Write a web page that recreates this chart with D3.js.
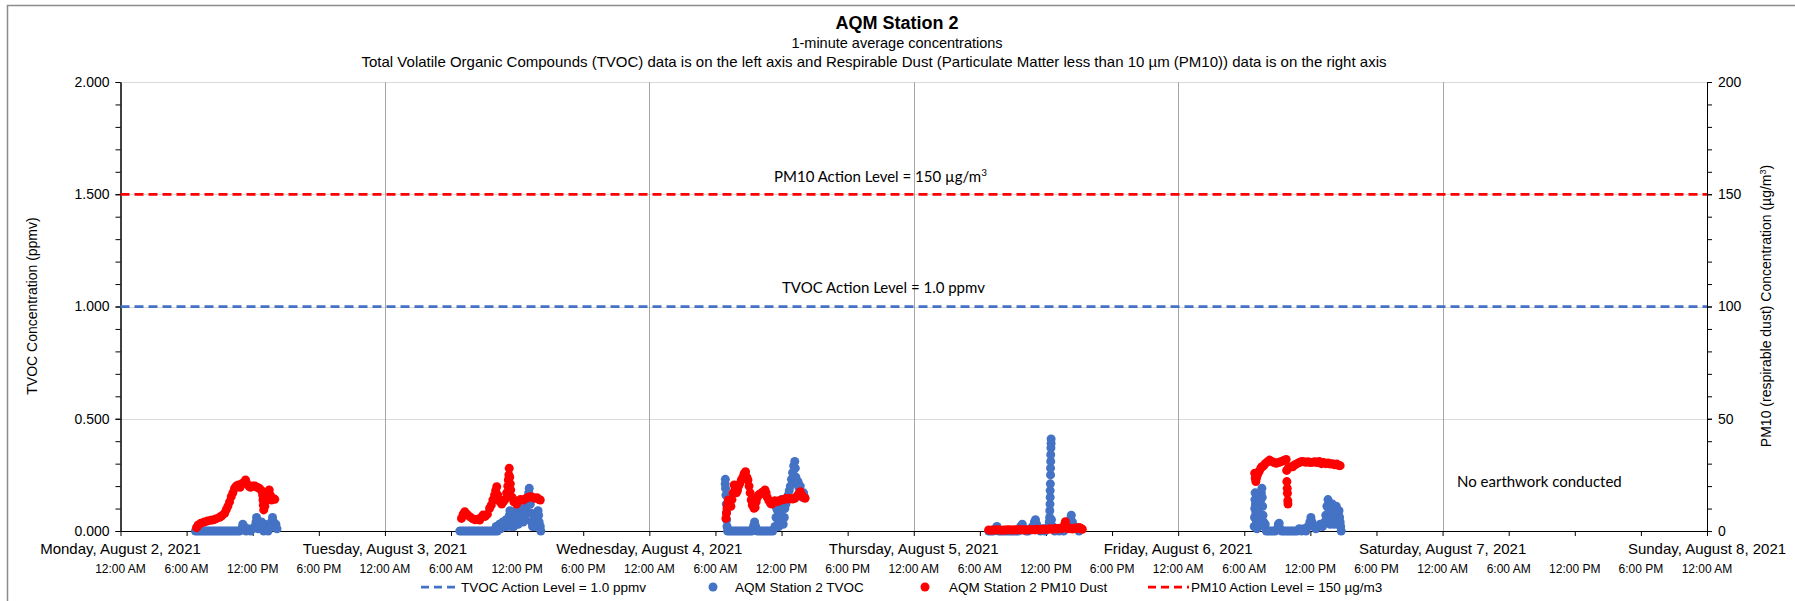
<!DOCTYPE html>
<html>
<head>
<meta charset="utf-8">
<script src="https://cdn.jsdelivr.net/npm/d3@7"></script>
<style>
  body { margin: 0; background: #fff; }
  svg text { font-family: "Liberation Sans", Arial, sans-serif; fill: #000; }
  svg text.note { font-family: Lato, "Open Sans", sans-serif; }
</style>
</head>
<body>
<script>
'use strict';

(function () {

  // x axis: one label per day (12:00 AM), plus the 6-hour time labels
  const dayLabels = ["Monday, August 2, 2021", "Tuesday, August 3, 2021", "Wednesday, August 4, 2021",
    "Thursday, August 5, 2021", "Friday, August 6, 2021", "Saturday, August 7, 2021", "Sunday, August 8, 2021"];
  const timeLabels = ["12:00 AM", "6:00 AM", "12:00 PM", "6:00 PM"];
  const tvocTicks = [0, 0.5, 1.0, 1.5, 2.0];
  const pm10Ticks = [0, 50, 100, 150, 200];
  const tvocActionLevel = 1.0;
  const pm10ActionLevel = 150;

  // readings as [hour of the day, value]; TVOC in ppmv, PM10 in ug/m3
  const tvocMon = [[6.8,0],[7.0,0],[7.2,0],[7.4,0],[7.6,0],[7.8,0],[8.0,0],[8.2,0],[8.4,0],[8.6,0],[8.8,0],
    [9.0,0],[9.2,0],[9.4,0],[9.6,0],[9.8,0],[10.0,0],[10.2,0],[10.4,0],[10.6,0],[10.8,0],[11.0,0.01],[11.1,0.03],
    [11.2,0.02],[11.4,0],[11.6,0.01],[11.8,0],[12.0,0.01],[12.2,0.02],[12.3,0.04],[12.35,0.06],[12.4,0.04],
    [12.5,0.01],[12.7,0.02],[12.8,0.04],[12.9,0.02],[13.0,0],[13.1,0.03],[13.2,0.01],[13.4,0],[13.6,0.02],
    [13.7,0.04],[13.8,0.06],[13.9,0.04],[14.0,0.02],[14.1,0.03],[14.2,0.01]];
  const pm10Mon = [[6.9,1.5],[7.05,2.7],[7.3,3.5],[7.6,4.0],[7.9,4.5],[8.2,4.8],[8.45,5.0],[8.7,5.5],[9.0,6.1],
    [9.2,6.8],[9.45,7.9],[9.6,9.5],[9.75,11.1],[9.9,13],[10.05,15.3],[10.2,17],[10.35,19],[10.5,20],[10.7,20.5],
    [10.85,19.5],[11.0,21],[11.2,21.5],[11.35,22.7],[11.5,21],[11.65,20],[11.8,19.5],[12.0,20],[12.2,20],
    [12.4,19.5],[12.6,19],[12.8,18],[12.9,16],[12.93,13.8],[12.96,11.5],[13.0,9.4],[13.1,11],[13.2,13.8],
    [13.35,16],[13.5,18.3],[13.6,16],[13.7,13.8],[13.85,14.5],[14.0,14.1]];

  const tvocTue = [[6.8,0],[7.0,0],[7.2,0],[7.4,0],[7.6,0],[7.8,0],[8.0,0],[8.2,0],[8.4,0],[8.6,0],[8.8,0],
    [9.0,0],[9.2,0],[9.4,0],[9.6,0],[9.8,0],[10.0,0],[10.1,0.02],[10.2,0],[10.4,0.03],[10.5,0.01],[10.7,0.04],
    [10.8,0.02],[11.0,0.05],[11.1,0.02],[11.25,0.05],[11.3,0.07],[11.35,0.09],[11.4,0.06],[11.5,0.02],[11.6,0.04],
    [11.7,0.02],[11.8,0.05],[11.9,0.07],[11.95,0.09],[12.0,0.06],[12.1,0.03],[12.2,0.05],[12.3,0.08],[12.4,0.1],
    [12.45,0.07],[12.55,0.04],[12.65,0.07],[12.75,0.05],[12.85,0.09],[12.95,0.12],[13.0,0.15],[13.05,0.17],
    [13.1,0.19],[13.15,0.16],[13.2,0.12],[13.25,0.08],[13.3,0.04],[13.4,0.02],[13.5,0.05],[13.6,0.02],[13.7,0.04],
    [13.8,0.06],[13.85,0.08],[13.9,0.09],[13.95,0.07],[14.0,0.04],[14.1,0.02],[14.15,0]];
  const pm10Tue = [[6.95,5.6],[7.1,7.5],[7.25,8.6],[7.45,7.5],[7.7,6.4],[7.95,5.5],[8.2,5.0],[8.45,5.2],[8.6,4.9],
    [8.75,6.0],[8.9,7.1],[9.1,6.5],[9.3,7.5],[9.5,10.1],[9.65,11.5],[9.8,13.8],[9.95,16],[10.05,18],[10.15,19.7],
    [10.25,16],[10.3,13.8],[10.45,13],[10.6,12],[10.75,13],[10.9,14],[11.05,17],[11.15,20],[11.2,22.7],[11.25,25],
    [11.28,27.9],[11.33,24],[11.38,21],[11.42,18.3],[11.55,15],[11.7,13],[11.95,12],[12.1,13.5],[12.3,14],
    [12.55,13.8],[12.8,14.5],[13.0,15],[13.2,15.3],[13.4,15],[13.6,14.6],[13.8,14.8],[14.0,14],[14.1,13.8]];

  const tvocWed = [[6.88,0.21],[6.9,0.23],[6.92,0.19],[6.95,0.16],[6.98,0.12],[7.0,0.08],[7.02,0.05],[7.05,0.02],
    [7.1,0],[7.3,0],[7.5,0],[7.7,0],[7.9,0],[8.1,0],[8.3,0],[8.5,0],[8.7,0],[8.9,0],[9.1,0],[9.3,0],[9.45,0.02],
    [9.55,0.04],[9.65,0.02],[9.8,0],[10.0,0],[10.2,0],[10.4,0],[10.6,0],[10.8,0],[11.0,0],[11.2,0],[11.4,0.02],
    [11.5,0.06],[11.55,0.1],[11.6,0.13],[11.65,0.09],[11.7,0.05],[11.75,0.02],[11.85,0.04],[11.9,0.08],
    [11.95,0.12],[12.0,0.14],[12.05,0.1],[12.1,0.06],[12.15,0.03],[12.25,0.06],[12.3,0.1],[12.35,0.13],
    [12.4,0.12],[12.5,0.14],[12.6,0.16],[12.7,0.18],[12.8,0.2],[12.9,0.23],[13.0,0.26],[13.1,0.29],[13.2,0.31],
    [13.25,0.28],[13.3,0.24],[13.4,0.21],[13.5,0.22],[13.6,0.19],[13.7,0.2],[13.8,0.17],[13.9,0.15],[14.0,0.17],
    [14.1,0.15]];
  const pm10Wed = [[6.95,5.6],[7.0,8],[7.05,10],[7.1,12],[7.17,13.8],[7.3,12],[7.4,11],[7.5,14],[7.6,17],
    [7.7,20.5],[7.8,19],[7.9,17],[8.0,18],[8.1,20],[8.2,21],[8.35,22.7],[8.5,24],[8.6,25.5],[8.73,26.4],
    [8.85,24],[8.95,22.7],[9.05,20],[9.15,17],[9.25,13.8],[9.35,11.5],[9.5,10.1],[9.6,10.5],[9.7,13],[9.8,15],
    [9.9,16],[10.05,16.5],[10.2,17],[10.35,17.5],[10.5,18.3],[10.6,17],[10.7,15],[10.85,13.5],[11.0,12.3],
    [11.1,12],[11.25,12.8],[11.4,13.5],[11.6,13],[11.8,13.5],[12.0,13.8],[12.2,14],[12.4,14.5],[12.6,14.2],
    [12.8,14.5],[13.0,14.2],[13.2,14.6],[13.4,15.5],[13.55,16.5],[13.7,17.5],[13.85,16],[14.0,15],[14.14,14.6]];

  const tvocThu = [[6.8,0],[7.0,0],[7.2,0],[7.4,0.01],[7.55,0.02],[7.7,0],[7.9,0],[8.1,0],[8.3,0],[8.5,0],
    [8.7,0],[8.9,0],[9.1,0],[9.3,0],[9.5,0],[9.7,0.02],[9.85,0.03],[10.0,0.01],[10.2,0],[10.4,0],[10.6,0.01],
    [10.8,0.02],[10.95,0.04],[11.05,0.05],[11.15,0.03],[11.3,0.01],[11.5,0],[11.7,0.01],[11.9,0],[12.1,0.01],
    [12.25,0.02],[12.3,0.04],[12.33,0.06],[12.35,0.09],[12.37,0.12],[12.38,0.15],[12.39,0.18],[12.4,0.21],
    [12.41,0.25],[12.42,0.28],[12.43,0.31],[12.44,0.34],[12.45,0.37],[12.46,0.39],[12.47,0.41],[12.5,0.05],
    [12.6,0.02],[12.8,0],[13.0,0.01],[13.2,0],[13.4,0.01],[13.6,0],[13.8,0.02],[14.0,0.03],[14.2,0.05],
    [14.3,0.07],[14.4,0.04],[14.6,0.02],[14.8,0.01],[15.0,0]];
  const pm10Thu = [[6.8,0.5],[7.0,0.3],[7.2,0.5],[7.4,0.4],[7.6,0.6],[7.8,0.5],[8.0,0.3],[8.2,0.5],[8.4,0.4],
    [8.6,0.6],[8.8,0.5],[9.0,0.4],[9.2,0.6],[9.4,0.5],[9.6,0.7],[9.8,0.5],[10.0,0.6],[10.2,0.4],[10.4,0.5],
    [10.6,0.7],[10.8,0.6],[11.0,0.5],[11.2,0.8],[11.4,0.6],[11.6,0.7],[11.8,0.9],[12.0,0.7],[12.2,0.8],[12.4,1.0],
    [12.6,0.8],[12.8,1.1],[13.0,0.9],[13.2,1.2],[13.4,1.0],[13.6,1.5],[13.7,3],[13.76,4.1],[13.85,2],[14.0,1.0],
    [14.2,1.2],[14.4,0.9],[14.6,1.3],[14.8,1.1],[15.0,1.6],[15.15,1.2],[15.3,0.8]];

  const tvocFri = [[6.9,0.02],[6.93,0.06],[6.95,0.1],[6.97,0.14],[6.99,0.17],[7.02,0.12],[7.05,0.08],[7.1,0.04],
    [7.15,0.01],[7.25,0.03],[7.3,0.06],[7.35,0.1],[7.4,0.13],[7.45,0.16],[7.5,0.14],[7.55,0.17],[7.6,0.19],
    [7.63,0.15],[7.66,0.11],[7.7,0.07],[7.75,0.04],[7.8,0.02],[7.9,0.03],[8.0,0],[8.2,0],[8.4,0],[8.6,0],[8.8,0],
    [9.0,0.01],[9.1,0.03],[9.17,0.035],[9.25,0.01],[9.4,0],[9.6,0],[9.8,0],[10.0,0],[10.2,0],[10.4,0],[10.6,0],
    [10.8,0],[11.0,0.01],[11.2,0],[11.4,0.01],[11.6,0],[11.8,0.02],[11.95,0.04],[12.05,0.06],[12.15,0.04],
    [12.3,0.02],[12.5,0.01],[12.7,0.02],[12.9,0.03],[13.1,0.02],[13.3,0.04],[13.4,0.07],[13.5,0.11],[13.6,0.14],
    [13.65,0.12],[13.7,0.09],[13.75,0.06],[13.8,0.03],[13.9,0.07],[13.95,0.1],[14.0,0.12],[14.05,0.09],[14.1,0.06],
    [14.15,0.03],[14.2,0.05],[14.3,0.08],[14.35,0.11],[14.4,0.09],[14.45,0.06],[14.5,0.03],[14.55,0.07],[14.6,0.09],
    [14.65,0.06],[14.7,0.04],[14.75,0.02],[14.8,0]];
  const pm10Fri = [[6.95,25.7],[7.0,23.5],[7.05,22],[7.1,23.5],[7.2,25],[7.35,26.5],[7.5,28],[7.6,28.6],[7.75,29],
    [7.9,30],[8.1,30.8],[8.3,31.6],[8.5,31],[8.7,30.5],[8.9,30.2],[9.1,30.5],[9.3,30.8],[9.5,31.2],[9.65,31.5],
    [9.8,31.9],[9.85,27],[9.87,22],[9.9,19],[9.92,16.8],[9.95,13.5],[9.97,12],[10.0,28],[10.2,28.6],[10.4,28.6],
    [10.6,29.5],[10.8,30],[11.0,30.5],[11.2,31],[11.4,30.8],[11.6,30.6],[11.8,30.8],[12.0,30.5],[12.2,30.6],
    [12.4,30.8],[12.6,30.5],[12.8,31],[13.0,30],[13.2,30.5],[13.4,30],[13.6,30.3],[13.8,29.8],[14.0,30],
    [14.2,29.5],[14.4,29.8],[14.6,29.2],[14.7,29.1]];

  // Monday .. Friday (no earthwork Saturday)
  const tvocDays = [tvocMon, tvocTue, tvocWed, tvocThu, tvocFri];
  const pm10Days = [pm10Mon, pm10Tue, pm10Wed, pm10Thu, pm10Fri];

  const blue = "#4472C4";
  const red = "#FF0000";
  let svg = "";

  window.onload = function () {
    svg = d3.select('body')
      .append('svg')
      .attr('width', 1795)
      .attr('height', 601);

    // chart frame
    svg.append('rect')
      .attr('x', 7.5).attr('y', 5.5)
      .attr('width', 1800).attr('height', 620)
      .attr('fill', 'none')
      .attr('stroke', '#8c8c8c')
      .attr('stroke-width', 1.5);

    let map = drawAxes();
    drawActionLevels(map);
    plotData(map);
    makeLabels();
    drawLegend();
  };

  // turn [hour, value] rows of each day into dated points
  function toPoints(days) {
    let points = [];
    days.forEach(function (rows, i) {
      rows.forEach(function (r) {
        points.push({ t: new Date(2021, 7, 2 + i, 0, Math.round(r[0] * 60)), v: r[1] });
      });
    });
    return points;
  }

  function drawAxes() {
    let xScale = d3.scaleTime()
      .domain([new Date(2021, 7, 2), new Date(2021, 7, 8)])
      .range([120.5, 1707]);
    let yLeft = d3.scaleLinear().domain([0, 2]).range([531, 82]);
    let yRight = d3.scaleLinear().domain([0, 200]).range([531, 82]);

    // horizontal gridlines
    svg.append('g')
      .selectAll('line')
      .data(tvocTicks.slice(1))
      .enter()
      .append('line')
      .attr('x1', xScale.range()[0]).attr('x2', xScale.range()[1])
      .attr('y1', d => Math.round(yLeft(d)) + 0.5).attr('y2', d => Math.round(yLeft(d)) + 0.5)
      .attr('stroke', '#d9d9d9');

    // day gridlines
    let days = d3.timeDay.range(xScale.domain()[0], d3.timeDay.offset(xScale.domain()[1], 1));
    svg.append('g')
      .selectAll('line')
      .data(days.slice(1, -1))
      .enter()
      .append('line')
      .attr('x1', d => Math.round(xScale(d)) + 0.5).attr('x2', d => Math.round(xScale(d)) + 0.5)
      .attr('y1', yLeft(2)).attr('y2', yLeft(0))
      .attr('stroke', '#a6a6a6');

    // left axis: minor ticks every 0.1, labels every 0.5
    svg.append('g')
      .attr('transform', 'translate(120.5, 0)')
      .call(d3.axisLeft(yLeft).tickValues(d3.range(0, 2.05, 0.1)).tickFormat('').tickSize(5).tickSizeOuter(0));
    svg.append('g')
      .attr('class', 'yl')
      .attr('transform', 'translate(120.5, 0)')
      .call(d3.axisLeft(yLeft).tickValues(tvocTicks).tickFormat(d3.format('.3f')).tickSize(5).tickPadding(6).tickSizeOuter(0));

    // right axis
    svg.append('g')
      .attr('transform', 'translate(1707, 0)')
      .call(d3.axisRight(yRight).tickValues(d3.range(0, 201, 10)).tickFormat('').tickSize(5).tickSizeOuter(0));
    svg.append('g')
      .attr('class', 'yr')
      .attr('transform', 'translate(1707, 0)')
      .call(d3.axisRight(yRight).tickValues(pm10Ticks).tickSize(5).tickPadding(6).tickSizeOuter(0));

    svg.selectAll('.yl text, .yr text')
      .style('font-size', '14px')
      .style('font-family', '"Liberation Sans", Arial, sans-serif');

    // x axis with 6-hour ticks
    svg.append('g')
      .attr('transform', 'translate(0, 531)')
      .call(d3.axisBottom(xScale).ticks(d3.timeHour.every(6)).tickFormat('').tickSize(5).tickSizeOuter(0));
    svg.selectAll('.domain, .tick line').attr('stroke', '#000');

    // time labels under each tick
    let sixHours = d3.timeHour.every(6).range(xScale.domain()[0], d3.timeHour.offset(xScale.domain()[1], 1));
    svg.append('g')
      .selectAll('text')
      .data(sixHours)
      .enter()
      .append('text')
      .attr('x', d => xScale(d))
      .attr('y', 573)
      .attr('text-anchor', 'middle')
      .style('font-size', '12px')
      .text(d => timeLabels[d.getHours() / 6]);

    // day labels
    svg.append('g')
      .selectAll('text')
      .data(days.slice(0, dayLabels.length))
      .enter()
      .append('text')
      .attr('x', d => xScale(d))
      .attr('y', 554)
      .attr('text-anchor', 'middle')
      .style('font-size', '15px')
      .text((d, i) => dayLabels[i]);

    return { x: xScale, yLeft: yLeft, yRight: yRight };
  }

  function drawActionLevels(map) {
    let x0 = map.x.range()[0];
    let x1 = map.x.range()[1];
    svg.append('line')
      .attr('x1', x0).attr('x2', x1)
      .attr('y1', map.yLeft(tvocActionLevel)).attr('y2', map.yLeft(tvocActionLevel))
      .attr('stroke', blue).attr('stroke-width', 2.75)
      .attr('stroke-dasharray', '9,5');
    svg.append('line')
      .attr('x1', x0).attr('x2', x1)
      .attr('y1', map.yRight(pm10ActionLevel)).attr('y2', map.yRight(pm10ActionLevel))
      .attr('stroke', red).attr('stroke-width', 2.75)
      .attr('stroke-dasharray', '9,5');
  }

  // scatter of both series, dust drawn on top
  function plotData(map) {
    svg.append('g')
      .selectAll('circle')
      .data(toPoints(tvocDays))
      .enter()
      .append('circle')
      .attr('cx', d => map.x(d.t))
      .attr('cy', d => map.yLeft(d.v))
      .attr('r', 4.5)
      .attr('fill', blue);

    svg.append('g')
      .selectAll('circle')
      .data(toPoints(pm10Days))
      .enter()
      .append('circle')
      .attr('cx', d => map.x(d.t))
      .attr('cy', d => map.yRight(d.v))
      .attr('r', 4.5)
      .attr('fill', red);
  }

  function makeLabels() {
    svg.append('text')
      .attr('x', 897).attr('y', 29)
      .attr('text-anchor', 'middle')
      .style('font-size', '18px')
      .style('font-weight', 'bold')
      .text('AQM Station 2');
    svg.append('text')
      .attr('x', 897).attr('y', 48)
      .attr('text-anchor', 'middle')
      .style('font-size', '14.5px')
      .text('1-minute average concentrations');
    svg.append('text')
      .attr('x', 874).attr('y', 67)
      .attr('text-anchor', 'middle')
      .style('font-size', '15px')
      .text('Total Volatile Organic Compounds (TVOC) data is on the left axis and Respirable Dust (Particulate Matter less than 10 \u00b5m (PM10)) data is on the right axis');

    // axis titles
    svg.append('text')
      .attr('transform', 'translate(37, 306)rotate(-90)')
      .attr('text-anchor', 'middle')
      .style('font-size', '14px')
      .text('TVOC Concentration (ppmv)');
    let right = svg.append('text')
      .attr('transform', 'translate(1771, 306)rotate(-90)')
      .attr('text-anchor', 'middle')
      .style('font-size', '14px')
      .text('PM10 (respirable dust) Concentration (\u00b5g/m');
    right.append('tspan').attr('dy', -5).style('font-size', '9px').text('3');
    right.append('tspan').attr('dy', 5).text(')');

    // notes on the plot
    let pmNote = svg.append('text')
      .attr('class', 'note')
      .attr('x', 774).attr('y', 182)
      .style('font-size', '15px')
      .text('PM10 Action Level = 150 \u00b5g/m');
    pmNote.append('tspan').attr('dy', -6).style('font-size', '10px').text('3');
    svg.append('text')
      .attr('class', 'note')
      .attr('x', 782).attr('y', 293)
      .style('font-size', '15px')
      .text('TVOC Action Level = 1.0 ppmv');
    svg.append('text')
      .attr('class', 'note')
      .attr('x', 1457).attr('y', 487)
      .style('font-size', '15px')
      .text('No earthwork conducted');
  }

  function drawLegend() {
    let y = 587;
    let legend = svg.append('g').style('font-size', '13.5px');

    legend.append('line')
      .attr('x1', 421).attr('x2', 459).attr('y1', y).attr('y2', y)
      .attr('stroke', blue).attr('stroke-width', 2.75).attr('stroke-dasharray', '8,5');
    legend.append('text').attr('x', 461).attr('y', y + 5).text('TVOC Action Level = 1.0 ppmv');

    legend.append('circle').attr('cx', 713).attr('cy', y).attr('r', 4.5).attr('fill', blue);
    legend.append('text').attr('x', 735).attr('y', y + 5).text('AQM Station 2 TVOC');

    legend.append('circle').attr('cx', 925).attr('cy', y).attr('r', 4.5).attr('fill', red);
    legend.append('text').attr('x', 949).attr('y', y + 5).text('AQM Station 2 PM10 Dust');

    legend.append('line')
      .attr('x1', 1148).attr('x2', 1189).attr('y1', y).attr('y2', y)
      .attr('stroke', red).attr('stroke-width', 2.75).attr('stroke-dasharray', '8,5');
    legend.append('text').attr('x', 1191).attr('y', y + 5).text('PM10 Action Level = 150 \u00b5g/m3');
  }

})();
</script>
</body>
</html>
